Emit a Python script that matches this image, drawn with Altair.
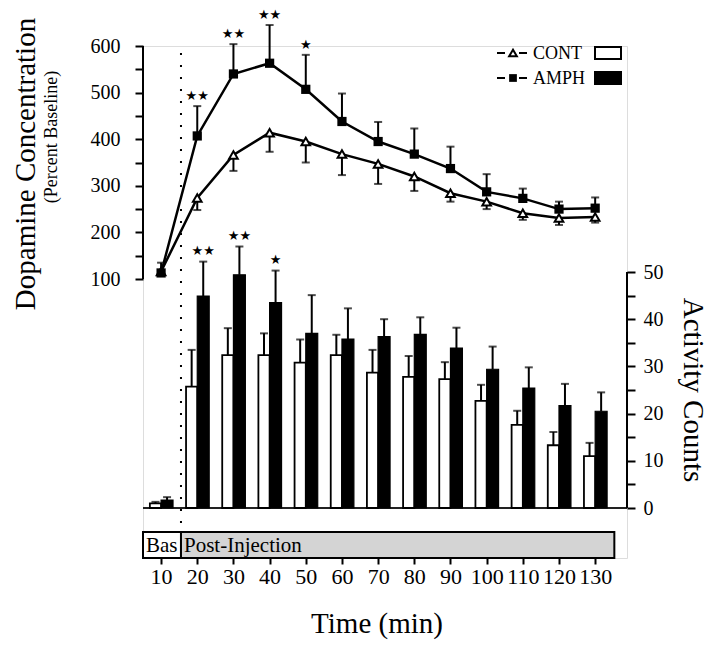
import altair as alt
import pandas as pd

# ---------------- data ----------------
times = [10, 20, 30, 40, 50, 60, 70, 80, 90, 100, 110, 120, 130]

cont_dopamine = [116, 274, 366, 414, 395, 368, 347, 320, 284, 266, 241, 231, 233]
cont_dopamine_sem = [6, 26, 34, 41, 45, 45, 43, 31, 18, 16, 14, 15, 12]
amph_dopamine = [113, 407, 540, 563, 507, 438, 395, 368, 337, 287, 273, 250, 252]
amph_dopamine_sem = [22, 64, 64, 82, 74, 60, 42, 55, 47, 38, 21, 16, 23]

cont_activity = [1.0, 25.7, 32.4, 32.4, 30.8, 32.4, 28.7, 27.8, 27.3, 22.7, 17.6, 13.3, 11.0]
cont_activity_sem = [0.3, 7.8, 5.7, 4.6, 4.9, 4.3, 4.8, 4.4, 3.6, 3.4, 3.0, 2.8, 2.8]
amph_activity = [1.7, 44.9, 49.4, 43.5, 37.0, 35.8, 36.3, 36.8, 33.9, 29.4, 25.4, 21.7, 20.5]
amph_activity_sem = [0.6, 7.3, 6.0, 6.8, 8.1, 6.5, 3.7, 3.6, 4.3, 4.8, 4.4, 4.6, 4.0]

dopa_star_times = [20, 30, 40, 50]
dopa_star_marks = ["★★", "★★", "★★", "★"]
act_star_times = [20, 30, 40]
act_star_marks = ["★★", "★★", "★"]

injection_time = [15.5]
phase_labels = ["Bas", "Post-Injection"]
phase_start = [5, 15.5]
phase_end = [15.5, 135.3]
phase_fill = ["white", "#d4d4d4"]

dopa_ticks = list(range(100, 601, 50))
act_ticks = list(range(0, 51, 5))

groups = ["CONT", "AMPH"]

# ---------------- geometry / styles ----------------
W, H = 484, 512
SERIF = "Liberation Serif"

xs = alt.Scale(domain=[5, 138.8], nice=False, zero=False)
ys_d = alt.Scale(domain=[-498.7, 600], nice=False, zero=False)
ys_a = alt.Scale(domain=[-10.59, 97.88], nice=False, zero=False)

x_axis = alt.Axis(values=times, domain=False, grid=False, tickSize=6, tickWidth=2,
                  tickColor="black", labelFont=SERIF, labelFontSize=22, labelColor="black",
                  labelPadding=2, labelFlush=False, labelOverlap=False, title=None)
d_axis = alt.Axis(orient="left", values=dopa_ticks,
                  labelExpr="datum.value % 100 == 0 ? datum.label : ''",
                  domain=False, grid=False, tickSize=8, tickWidth=2, tickColor="black",
                  labelFont=SERIF, labelFontSize=20, labelColor="black", labelPadding=15,
                  labelFlush=False, labelOverlap=False, title=None)
a_axis = alt.Axis(orient="right", values=act_ticks,
                  labelExpr="datum.value % 10 == 0 ? datum.label : ''",
                  domain=False, grid=False, tickSize=8, tickWidth=2, tickColor="black",
                  labelFont=SERIF, labelFontSize=20, labelColor="black", labelPadding=8,
                  labelFlush=False, labelOverlap=False, title=None)


def X(field):
    return alt.X(field, type="quantitative", scale=xs, axis=x_axis)


def YD(field):
    return alt.Y(field, type="quantitative", scale=ys_d, axis=d_axis)


def YA(field):
    return alt.Y(field, type="quantitative", scale=ys_a, axis=a_axis)


# ---------------- dopamine (line) part ----------------
dopa = pd.DataFrame({
    "t": times,
    "cont": cont_dopamine, "cont_sem": cont_dopamine_sem,
    "amph": amph_dopamine, "amph_sem": amph_dopamine_sem,
})
dopa["cont_lo"] = dopa["cont"] - dopa["cont_sem"]
dopa["amph_hi"] = dopa["amph"] + dopa["amph_sem"]
dbase = alt.Chart(dopa)

d_err_c = dbase.mark_rule(color="black", strokeWidth=2).encode(x=X("t"), y=YD("cont"), y2="cont_lo")
d_cap_c = dbase.mark_tick(color="black", orient="horizontal", size=8, thickness=2).encode(x=X("t"), y=YD("cont_lo"))
d_err_a = dbase.mark_rule(color="black", strokeWidth=2).encode(x=X("t"), y=YD("amph"), y2="amph_hi")
d_cap_a = dbase.mark_tick(color="black", orient="horizontal", size=8, thickness=2).encode(x=X("t"), y=YD("amph_hi"))
d_line_c = dbase.mark_line(color="black", strokeWidth=2.5).encode(x=X("t"), y=YD("cont"))
d_line_a = dbase.mark_line(color="black", strokeWidth=2.5).encode(x=X("t"), y=YD("amph"))
d_pts_c = dbase.mark_point(shape="triangle-up", size=75, filled=True, fill="white",
                           stroke="black", strokeWidth=2, opacity=1).encode(x=X("t"), y=YD("cont"))
d_pts_a = dbase.mark_point(shape="square", size=85, filled=True, color="black",
                           opacity=1).encode(x=X("t"), y=YD("amph"))

dstar = pd.DataFrame({"t": dopa_star_times, "s": dopa_star_marks})
dstar = dstar.merge(dopa[["t", "amph_hi"]], on="t")
d_stars = alt.Chart(dstar).mark_text(font="DejaVu Sans", fontSize=13, color="black",
                                     baseline="middle", dy=-10).encode(
    x=X("t"), y=YD("amph_hi"), text="s:N")

d_axis_line = alt.Chart(pd.DataFrame({"lo": [dopa_ticks[0]], "hi": [dopa_ticks[-1]]})).mark_rule(
    color="black", strokeWidth=2).encode(x=alt.value(0), y=YD("lo"), y2="hi")

dopa_layer = alt.layer(d_axis_line, d_err_c, d_cap_c, d_err_a, d_cap_a, d_line_c, d_line_a,
                       d_pts_c, d_pts_a, d_stars)

# ---------------- activity (bar) part ----------------
act = pd.DataFrame({
    "t": times,
    "cont": cont_activity, "cont_sem": cont_activity_sem,
    "amph": amph_activity, "amph_sem": amph_activity_sem,
})
abase = alt.Chart(act).transform_calculate(
    zero="0",
    cx0="datum.t - 3.1", cx1="datum.t", cxc="datum.t - 1.55",
    ax0="datum.t", ax1="datum.t + 3.3", axc="datum.t + 1.65",
    cont_hi="datum.cont + datum.cont_sem", amph_hi="datum.amph + datum.amph_sem",
)

a_bar_c = abase.mark_bar(fill="white", stroke="black", strokeWidth=1.8).encode(
    x=X("cx0"), x2="cx1", y=YA("cont"), y2="zero")
a_bar_a = abase.mark_bar(fill="black", stroke="black", strokeWidth=1.2).encode(
    x=X("ax0"), x2="ax1", y=YA("amph"), y2="zero")
a_err_c = abase.mark_rule(color="black", strokeWidth=2).encode(x=X("cxc"), y=YA("cont"), y2="cont_hi")
a_cap_c = abase.mark_tick(color="black", orient="horizontal", size=8, thickness=2).encode(
    x=X("cxc"), y=YA("cont_hi"))
a_err_a = abase.mark_rule(color="black", strokeWidth=2).encode(x=X("axc"), y=YA("amph"), y2="amph_hi")
a_cap_a = abase.mark_tick(color="black", orient="horizontal", size=8, thickness=2).encode(
    x=X("axc"), y=YA("amph_hi"))

astar = pd.DataFrame({"t": act_star_times, "s": act_star_marks})
astar = astar.merge(act[["t", "amph", "amph_sem"]], on="t")
a_stars = alt.Chart(astar).transform_calculate(
    axc="datum.t + 1.65", amph_hi="datum.amph + datum.amph_sem"
).mark_text(font="DejaVu Sans", fontSize=13, color="black", baseline="middle", dy=-11).encode(
    x=X("axc"), y=YA("amph_hi"), text="s:N")

a_axis_line = alt.Chart(pd.DataFrame({"lo": [act_ticks[0]], "hi": [act_ticks[-1]]})).mark_rule(
    color="black", strokeWidth=2).encode(x=alt.value(W), y=YA("lo"), y2="hi")
a_baseline = alt.Chart(pd.DataFrame({"lo": [act_ticks[0]]})).mark_rule(
    color="#222222", strokeWidth=2).encode(x=alt.value(0), x2=alt.value(W), y=YA("lo"))

act_layer = alt.layer(a_baseline, a_bar_c, a_bar_a, a_err_c, a_cap_c, a_err_a, a_cap_a,
                      a_stars, a_axis_line)

# ---------------- phase box, injection line ----------------
phase = pd.DataFrame({"start": phase_start, "end": phase_end, "label": phase_labels, "fill": phase_fill})
box = alt.Chart(phase).mark_rect(stroke="black", strokeWidth=2).encode(
    x=X("start"), x2="end", y=alt.value(486), y2=alt.value(512),
    fill=alt.Fill("fill:N", scale=None))
box_text = alt.Chart(phase).mark_text(font=SERIF, fontSize=21, color="black", align="left",
                                      baseline="middle", dx=3).encode(
    x=X("start"), y=alt.value(500), text="label:N")

inj = alt.Chart(pd.DataFrame({"t": injection_time})).mark_rule(
    color="black", strokeWidth=2, strokeDash=[2, 10]).encode(
    x=X("t"), y=alt.value(7), y2=alt.value(486))

# ---------------- titles ----------------
def label(text, x, y, size, angle=0, baseline="middle"):
    return alt.Chart(pd.DataFrame({"txt": [text]})).mark_text(
        font=SERIF, fontSize=size, color="black", align="center", baseline=baseline,
        angle=angle).encode(x=alt.value(x), y=alt.value(y), text="txt:N")

t_dopa = label("Dopamine Concentration", -117, 118, 29, 270)
t_pct = label("(Percent Baseline)", -91, 91, 18, 270)
t_act = label("Activity Counts", 550, 344, 29, 90)
t_time = label("Time (min)", 234, 587, 29, baseline="alphabetic")

# ---------------- legend ----------------
leg_rows = [(groups[0], 7), (groups[1], 32)]
legend_layers = []
for name, yy in leg_rows:
    ldf = pd.DataFrame({"txt": [name]})
    legend_layers.append(alt.Chart(ldf).mark_rule(color="black", strokeWidth=2, strokeDash=[8, 14]).encode(
        x=alt.value(354), x2=alt.value(384), y=alt.value(yy)))
    if name == "CONT":
        legend_layers.append(alt.Chart(ldf).mark_point(shape="triangle-up", size=60, filled=True, fill="white",
                                                        stroke="black", strokeWidth=2, opacity=1).encode(
            x=alt.value(370), y=alt.value(yy)))
        boxfill = "white"
    else:
        legend_layers.append(alt.Chart(ldf).mark_point(shape="square", size=60, filled=True,
                                                        color="black", opacity=1).encode(
            x=alt.value(370), y=alt.value(yy)))
        boxfill = "black"
    legend_layers.append(alt.Chart(ldf).mark_text(font=SERIF, fontSize=18, color="black", align="left",
                                                   baseline="middle").encode(
        x=alt.value(390), y=alt.value(yy + 1), text="txt:N"))
    legend_layers.append(alt.Chart(ldf).mark_rect(fill=boxfill, stroke="black", strokeWidth=2).encode(
        x=alt.value(452), x2=alt.value(478), y=alt.value(yy - 6), y2=alt.value(yy + 6)))

chart = alt.layer(
    act_layer, dopa_layer, box, box_text, inj,
    t_dopa, t_pct, t_act, t_time, *legend_layers,
).resolve_scale(y="independent").properties(
    width=W, height=H,
    autosize=alt.AutoSizeParams(type="none"),
    padding={"left": 135, "top": 38, "right": 84, "bottom": 82},
).configure_view(stroke=None).configure(background="white")

chart.save("out.html", embed_options={"renderer": "svg", "actions": False})
